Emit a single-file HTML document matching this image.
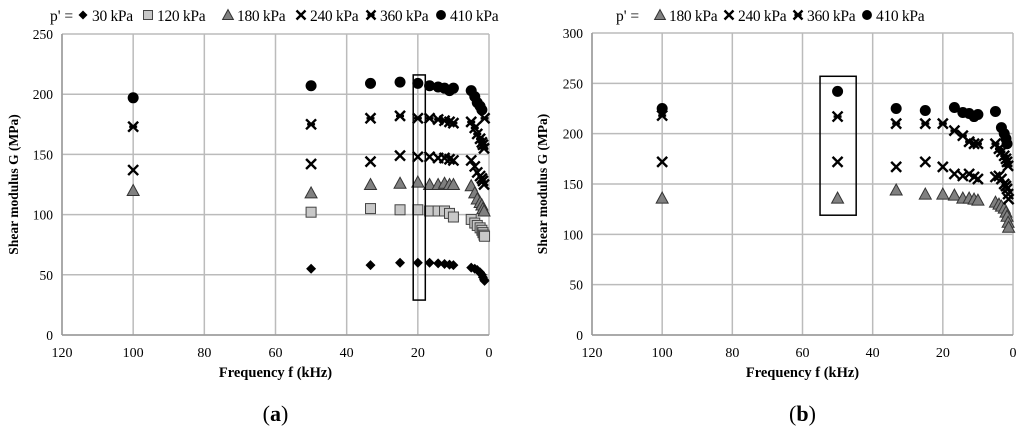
<!DOCTYPE html>
<html><head><meta charset="utf-8"><style>
body{margin:0;background:#fff;font-family:"Liberation Serif",serif}
svg text{font-family:"Liberation Serif",serif}
</style></head><body>
<svg id="s" width="1024" height="427" xmlns="http://www.w3.org/2000/svg"></svg>
<script>
const freqA=[100,50,33.3,25,20,16.7,14.3,12.5,11.1,10,5,4,3.3,2.5,2,1.7,1.4,1.25];
const a30=[null,55,58,60,60,60,59.5,59,58.5,58,56,55,54,52,50,48,46,45];
const a120=[null,102,105,104,104,103,103,103,101,98,96,93,91,89,87,85,83,82];
const a180=[120,118,125,126,127,125,125,126,125,125,124,118,113,110,108,105,103,null];
const a240=[137,142,144,149,148,148,147,147,146,145,145,140,135,132,130,128,125,null];
const a360=[173,175,180,182,180,180,179,178,177,176,177,172,167,163,160,158,155,180];
const a410=[197,207,209,210,209,207,206,205,203,205,203,198,193,190,187,null,null,null];
const freqB=[100,50,33.3,25,20,16.7,14.3,12.5,11.1,10,5,4,3.3,2.5,2,1.7,1.4,1.25];
const b180=[136,136,144,140,140,139,136,136,135,134,132,130,128,126,122,118,112,107];
const b240=[172,172,167,172,167,160,158,160,157,155,157,158,155,150,148,145,140,135];
const b360=[218,217,210,210,210,203,198,192,190,190,190,185,182,178,175,172,168,null];
const b410=[225,242,225,223,null,226,221,220,217,219,222,null,206,200,195,190,null,null];
const xTicks=[120,100,80,60,40,20,0];
const NS="http://www.w3.org/2000/svg",S=document.getElementById('s');
function el(t,a,p){const e=document.createElementNS(NS,t);for(const k in a)e.setAttribute(k,a[k]);(p||S).appendChild(e);return e;}
function marker(g,type,x,y,k){k=k||1;let e;
 if(type==='dia')e=el('polygon',{points:`${x},${y-5*k} ${x+5*k},${y} ${x},${y+5*k} ${x-5*k},${y}`,fill:'#000'},g);
 else if(type==='sq'){e=el('rect',{x:x-5*k,y:y-5*k,width:10*k,height:10*k,fill:'#c8c8c8',stroke:'#444','stroke-width':1},g);}
 else if(type==='tri')e=el('polygon',{points:`${x},${y-6*k} ${x+6*k},${y+5*k} ${x-6*k},${y+5*k}`,fill:'#808080',stroke:'#333','stroke-width':1},g);
 else if(type==='x')e=el('path',{d:`M${x-5*k} ${y-5*k}L${x+5*k} ${y+5*k}M${x+5*k} ${y-5*k}L${x-5*k} ${y+5*k}`,stroke:'#000','stroke-width':2.4},g);
 else if(type==='star')e=el('path',{d:`M${x-5*k} ${y-5*k}L${x+5*k} ${y+5*k}M${x+5*k} ${y-5*k}L${x-5*k} ${y+5*k}M${x-4*k} ${y}L${x+4*k} ${y}`,stroke:'#000','stroke-width':2.4},g);
 else e=el('circle',{cx:x,cy:y,r:5.5*k,fill:'#000'},g);
 return e;}
function chart(id,x0,x1,y0,y1,ymax,yTicks,freq,series,box,legend,legPos,lab,ytx){
 const g=el('g',{});
 const xs=v=>x1+(x0-x1)*v/120, ys=v=>y1-(y1-y0)*v/ymax;
 yTicks.forEach(t=>{el('line',{x1:x0,x2:x1,y1:ys(t),y2:ys(t),stroke:'#bbb','stroke-width':1.5},g);
  const tx=el('text',{x:x0-9,y:ys(t)+5,'text-anchor':'end','font-size':13.5},g);tx.textContent=t;});
 xTicks.forEach(t=>{el('line',{x1:xs(t),x2:xs(t),y1:y0,y2:y1,stroke:'#bbb','stroke-width':1.5},g);
  const tx=el('text',{x:xs(t),y:y1+22,'text-anchor':'middle','font-size':14},g);tx.textContent=t;});
 el('line',{x1:x0,x2:x1,y1:y1,y2:y1,stroke:'#999','stroke-width':1.5},g);
 el('line',{x1:x0,x2:x0,y1:y0,y2:y1,stroke:'#999','stroke-width':1.5},g);
 series.forEach(([type,vals,name])=>{vals.forEach((v,i)=>{if(v==null)return;const m=marker(g,type,xs(freq[i]),ys(v));
  });});
 const r=el('rect',{x:xs(box[0]),y:ys(box[2]),width:xs(box[1])-xs(box[0]),height:ys(box[3])-ys(box[2]),fill:'none',stroke:'#000','stroke-width':1.5},g);
 
 const yt=el('text',{x:0,y:0,'font-size':13.5,'font-weight':'bold','text-anchor':'middle',transform:`translate(${ytx},${(y0+y1)/2}) rotate(-90)`},g);
 yt.textContent='Shear modulus G (MPa)';
 const xt=el('text',{x:(x0+x1)/2,y:y1+42,'font-size':14.5,'font-weight':'bold','text-anchor':'middle'},g);
 xt.textContent='Frequency f (kHz)';
 const lt=el('text',{x:(x0+x1)/2,y:421,'font-size':22,'text-anchor':'middle'},g);
 lt.innerHTML='(<tspan font-weight="bold">'+lab+'</tspan>)';
 const lg=el('g',{},g);
 const p=el('text',{x:legPos[0],y:21,'font-size':15.5},lg);p.textContent="p' =";
 legend.forEach(([type,txt],i)=>{const lx=legPos[i+1];marker(lg,type,lx,15,0.9);const t=el('text',{x:lx+9,y:21,'font-size':15.5,'letter-spacing':-0.3},lg);t.textContent=txt;});
}
chart('chart-a',62,489,34,335,250,[0,50,100,150,200,250],freqA,
 [['dia',a30,'30kPa'],['sq',a120,'120kPa'],['tri',a180,'180kPa'],['x',a240,'240kPa'],['star',a360,'360kPa'],['dot',a410,'410kPa']],
 [21.3,17.9,216,29],[['dia','30 kPa'],['sq','120 kPa'],['tri','180 kPa'],['x','240 kPa'],['star','360 kPa'],['dot','410 kPa']],
 [50,83,148,228,301,371,441],'a',18);
chart('chart-b',592,1013,33,335,300,[0,50,100,150,200,250,300],freqB,
 [['tri',b180,'180kPa'],['x',b240,'240kPa'],['star',b360,'360kPa'],['dot',b410,'410kPa']],
 [55,44.7,257,119],[['tri','180 kPa'],['x','240 kPa'],['star','360 kPa'],['dot','410 kPa']],
 [616,660,729,798,867],'b',547);
</script>
</body></html>
